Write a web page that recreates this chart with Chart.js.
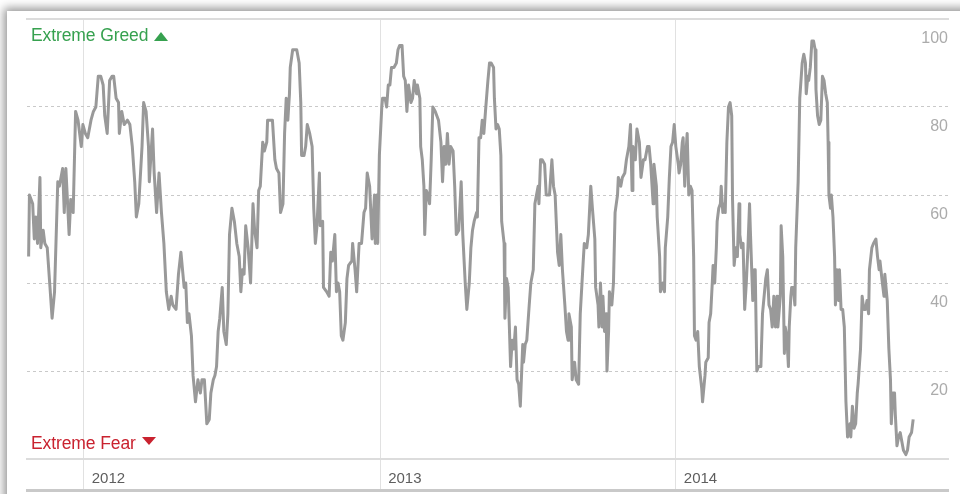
<!DOCTYPE html>
<html>
<head>
<meta charset="utf-8">
<script src="https://cdn.jsdelivr.net/npm/chart.js@4.4.1/dist/chart.umd.min.js"></script>
<style>
html,body{margin:0;padding:0;background:#fff;width:960px;height:494px;overflow:hidden;}
#card{position:absolute;left:7px;top:11px;width:1000px;height:540px;background:#fff;box-shadow:0 0 9px 3px rgba(0,0,0,0.42);}
#c{position:absolute;left:0;top:0;}
.lab{position:absolute;left:31px;font-family:"Liberation Sans",Arial,sans-serif;font-size:17.5px;line-height:18px;white-space:nowrap;letter-spacing:-0.1px;}
.greed{top:26px;color:#36a14f;}
.fear{top:434px;color:#c9222f;}
.up{display:inline-block;width:0;height:0;margin-left:6px;border-left:7px solid transparent;border-right:7px solid transparent;border-bottom:9px solid #36a14f;vertical-align:0px;}
.down{display:inline-block;width:0;height:0;margin-left:6px;border-left:7px solid transparent;border-right:7px solid transparent;border-top:8px solid #c9222f;vertical-align:4px;}
</style>
</head>
<body>
<div id="card"></div>
<canvas id="c" width="960" height="494"></canvas>
<div class="lab greed">Extreme Greed<span class="up"></span></div>
<div class="lab fear">Extreme Fear<span class="down"></span></div>
<script>
// Fear & Greed index, x = days since 2012-01-01
const days2011 = [-68,-67,-63,-61,-59,-57,-54,-53,-50,-48,-45,-42,-39,-36,-32,-30,-26,-24,-22,-18,-16,-13,-10,-7,-3,-1];
const fg2011   = [46,60,58,50,55,49,64,48,52,49,48,40,32,38,63,62,66,56,66,51,59,56,79,77,71,76];

const days2012 = [2,5,9,12,15,18,21,24,26,29,
  32,35,37,40,43,44,47,50,54,57,
  60,63,65,68,72,74,77,80,81,85,
  87,90,93,96,99,102,105,108,110,114,
  117,120,124,126,128,130,133,135,138,141,
  144,146,149,152,155,157,160,162,164,166,
  168,171,173,176,178,180,183,186,189,192,
  194,196,198,200,203,206,209,211,214,216,
  218,221,223,226,227,231,233,236,238,241,
  243,246,248,250,252,254,255,258,260,263,
  266,268,269,272,274,276,279,282,284,286,
  288,291,292,295,296,300,303,305,307,310,
  312,314,316,318,320,323,325,327,331,332,
  335,337,340,343,346,348,350,353,355,356,
  359,360,362,363,365];
const fg2012 = [74,73,77,79,80,87,87,85,78,74,
  86,87,87,82,81,74,79,76,77,76,
  71,63,55,58,71,81,79,71,63,75,
  65,56,65,56,49,38,34,37,35,34,
  42,47,39,40,31,33,28,19,13,18,
  15,18,18,8,9,15,18,19,21,29,
  32,39,29,26,33,51,57,54,49,46,
  38,43,42,53,48,40,58,52,48,61,
  62,72,70,72,77,77,77,68,66,65,
  56,58,74,82,77,83,89,93,93,93,
  90,81,69,69,71,76,74,71,57,49,
  53,65,53,54,39,38,37,47,45,51,
  38,40,38,28,27,31,41,44,45,49,
  43,38,49,49,56,57,65,62,54,50,
  60,49,60,49,69];

const days2013 = [368,369,372,374,376,378,380,383,386,388,
  390,393,395,397,399,401,404,406,408,411,
  412,415,416,418,420,421,423,425,427,429,
  431,434,438,441,443,445,447,449,451,453,
  456,458,460,463,466,468,471,473,476,478,
  480,482,485,486,488,490,492,494,496,499,
  501,503,506,507,509,511,513,515,516,519,
  520,522,524,527,529,531,533,535,537,539,
  542,543,545,547,550,552,555,557,559,561,
  562,564,566,569,571,573,575,578,580,582,
  585,587,589,591,594,596,598,599,602,603,
  606,608,611,613,617,618,621,623,626,628,
  631,632,635,636,638,640,641,643,645,646,
  648,649,652,654,656,659,660,663,665,668,
  670,673,675,677,678,681,683,686,688,691,
  693,696,698,700,703,704,707,708,711,712,
  715,717,718,721,723,725,727,729];
const fg2013 = [80,82,82,80,85,85,89,89,90,93,
  94,94,87,86,79,85,81,82,86,83,
  85,82,71,68,62,51,61,60,58,68,
  80,79,77,72,63,71,67,74,67,71,
  70,62,51,52,63,51,40,34,40,48,
  52,54,56,55,73,73,77,74,79,86,
  90,90,89,82,75,76,75,69,54,49,
  32,41,39,21,27,25,30,18,17,12,
  26,22,26,27,35,40,43,58,60,62,
  58,68,68,67,60,60,60,68,62,60,
  47,44,51,43,35,29,27,33,30,18,
  22,18,17,33,46,49,48,51,62,57,
  50,39,35,30,40,30,37,29,33,20,
  29,38,35,40,56,60,64,62,64,65,
  68,71,76,61,71,68,75,72,64,68,
  68,71,71,67,58,67,62,55,46,38,
  40,38,48,55,64,71,72,76];

const days2014 = [731,734,735,737,739,740,742,744,745,747,
  749,751,753,754,756,758,760,763,764,767,
  768,771,772,774,776,777,779,781,782,784,
  786,787,789,791,792,794,796,798,800,801,
  803,805,807,809,810,812,814,816,818,820,
  822,823,826,828,829,831,833,836,838,842,
  844,846,848,850,852,854,856,857,860,861,
  863,865,866,868,870,871,873,874,876,878,
  879,882,884,887,889,891,892,894,895,897,
  899,901,903,904,906,908,910,912,914,916,
  918,919,920,922,923,925,927,928,930,932,
  933,935,937,939,941,943,946,947,949,951,
  953,955,956,959,961,963,965,967,969,970,
  973,975,978,980,982,983,986,988,989,992,
  994,996,997,999,1001,1002,1004,1006,1008,1010,
  1012,1015,1017,1019,1020,1022,1024];
const fg2014 = [71,67,65,67,72,73,62,71,74,60,
  62,61,46,28,27,29,21,16,13,19,
  22,23,31,33,40,44,40,48,54,57,
  58,62,56,58,56,72,80,81,78,59,
  44,48,46,58,51,48,49,34,40,48,
  58,52,36,43,43,20,21,21,33,41,
  43,35,34,30,37,30,37,30,37,53,
  46,24,30,28,21,30,37,39,39,35,
  48,63,82,90,92,90,83,87,86,89,
  95,95,93,84,78,76,77,87,86,83,
  81,72,60,57,60,55,46,35,43,36,
  43,34,34,30,13,5,8,5,12,7,
  8,15,17,25,37,34,34,36,33,43,
  48,49,50,46,43,45,40,37,42,36,
  25,18,8,15,15,10,3,5,6,4,
  2,1,2,5,5,6,9];

const yearDays   = [0, 366, 731];
const yearLabels = ['2012', '2013', '2014'];
const yTicks     = [20, 40, 60, 80, 100];

const allDays = days2011.concat(days2012, days2013, days2014);
const allVals = fg2011.concat(fg2012, fg2013, fg2014);
const points = allDays.map((d, i) => ({x: d, y: allVals[i]}));

Chart.defaults.font.family = '"Liberation Sans", Arial, sans-serif';

new Chart(document.getElementById('c'), {
  type: 'line',
  data: {
    datasets: [{
      data: points,
      xAxisID: 'x',
      yAxisID: 'y',
      borderColor: '#999999',
      borderWidth: 3,
      pointRadius: 0,
      tension: 0,
      fill: false,
      borderJoinStyle: 'round'
    }]
  },
  options: {
    responsive: false,
    devicePixelRatio: 1,
    animation: false,
    layout: {padding: {left: 27, right: 12, top: 19, bottom: 4}},
    plugins: {legend: {display: false}, tooltip: {enabled: false}},
    scales: {
      x: {
        type: 'linear', position: 'bottom', weight: 0,
        min: -70, max: 1067, bounds: 'data',
        afterBuildTicks: s => { s.ticks = yearDays.map(v => ({value: v})); },
        afterFit: s => { s.height = 31; },
        ticks: {
          autoSkip: false, maxRotation: 0, minRotation: 0,
          align: 'start', labelOffset: 8, padding: -20,
          color: '#5e5e5e', font: {size: 15},
          callback: (v, i) => yearLabels[i]
        },
        grid: {color: '#e1e1e1', lineWidth: 1, drawTicks: true, tickLength: 31, tickColor: '#e1e1e1'},
        border: {display: true, color: '#dcdcdc', width: 2}
      },
      xBase: {
        type: 'linear', position: 'bottom', weight: 1,
        min: -70, max: 1067,
        afterFit: s => { s.height = 0; },
        ticks: {display: false},
        grid: {display: false, drawTicks: false},
        border: {display: true, color: '#c9c9c9', width: 3}
      },
      xTop: {
        type: 'linear', position: 'top',
        min: -70, max: 1067,
        afterFit: s => { s.height = 0; },
        ticks: {display: false},
        grid: {display: false, drawTicks: false},
        border: {display: true, color: '#dcdcdc', width: 2}
      },
      y: {
        position: 'right', min: 0, max: 100,
        afterFit: s => { s.width = 0; },
        afterBuildTicks: s => { s.ticks = [0].concat(yTicks).map(v => ({value: v})); },
        ticks: {
          mirror: true, padding: 0, labelOffset: 20,
          color: '#ababab', font: {size: 16},
          callback: v => (yTicks.indexOf(v) >= 0 ? String(v) : '')
        },
        grid: {
          color: c => (c.tick && (c.tick.value === 0 || c.tick.value === 100)) ? 'rgba(0,0,0,0)' : '#c9c9c9',
          lineWidth: 1, drawTicks: false
        },
        border: {display: false, dash: [3, 3]}
      }
    }
  }
});
</script>
</body>
</html>
